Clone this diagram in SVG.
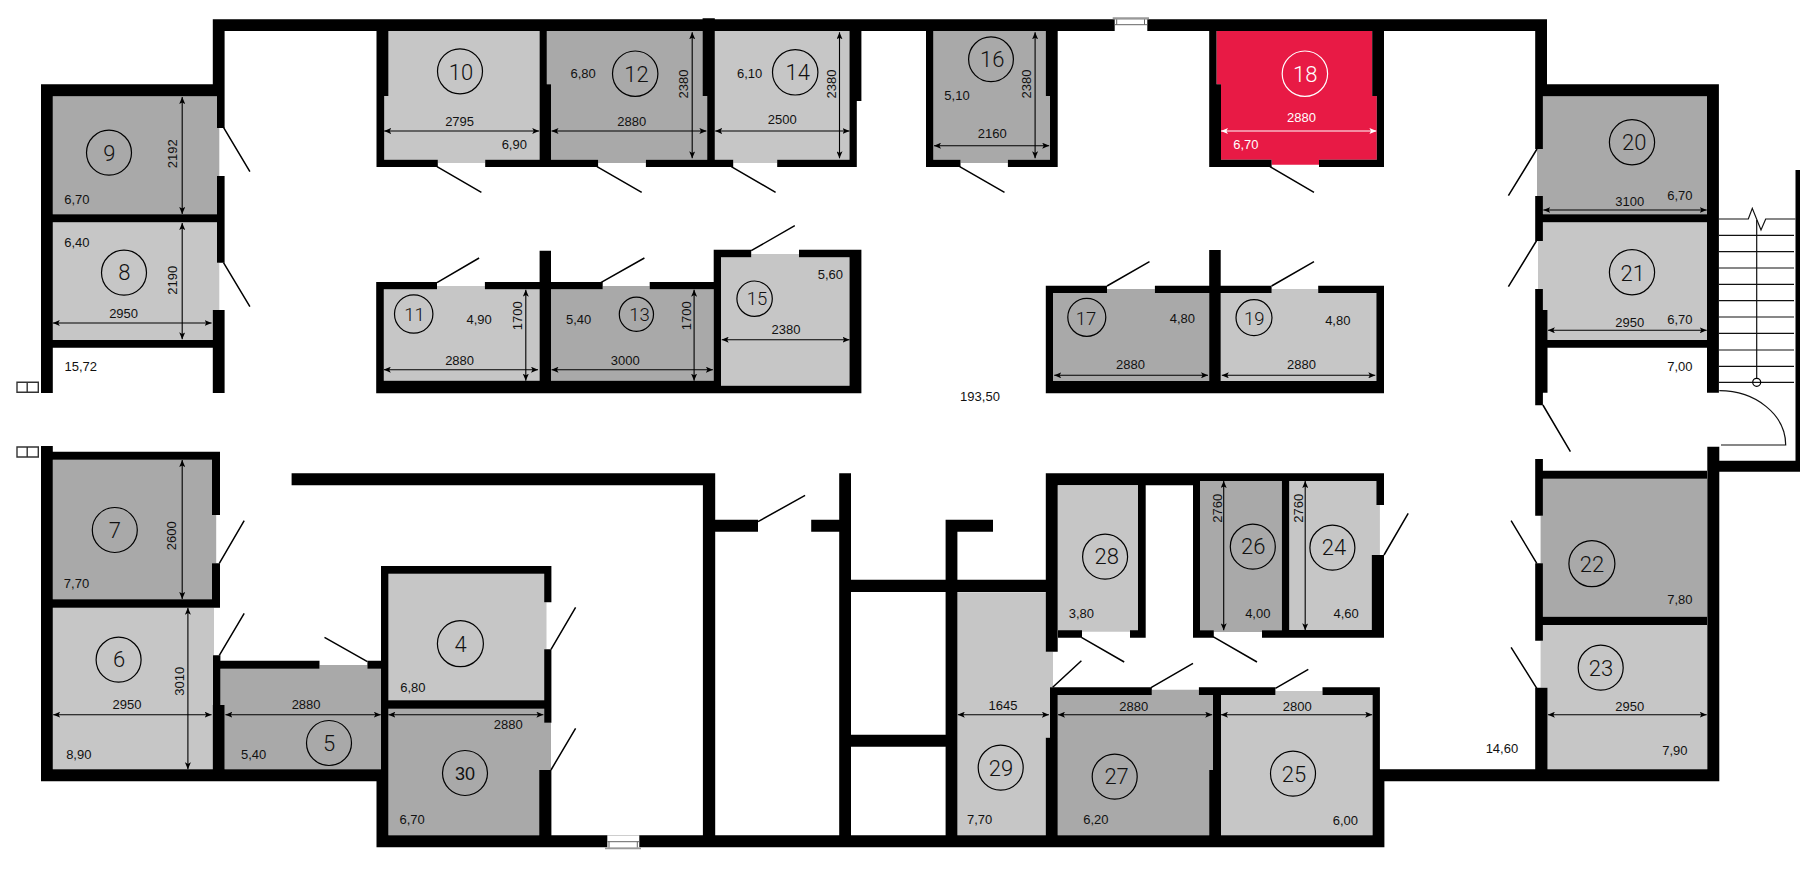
<svg xmlns="http://www.w3.org/2000/svg" width="1800" height="869" viewBox="0 0 1800 869">
<style>
text{font-family:"Liberation Sans",Arial,sans-serif;text-anchor:middle;fill:#111}
.s{font-size:13px}
.n{font-family:Roboto,"Liberation Sans",sans-serif;font-weight:300;font-size:22px}
.c{font-family:Roboto,"Liberation Sans",sans-serif;font-weight:300;font-size:18.5px}
.l{fill:#c6c6c6}
.d{fill:#a9a9a9}
.r{fill:#e81a45}
circle{fill:none;stroke:#000;stroke-width:1.2}
.m{stroke:#000;stroke-width:1.1;fill:none;marker-start:url(#a);marker-end:url(#a)}
.door{stroke:#000;stroke-width:1.5;fill:none}
.st{stroke:#111;stroke-width:1.2;fill:none}
#room18 text{fill:#fff}
#room18 circle{stroke:#fff}
#room18 .m{stroke:#fff;marker-start:url(#w);marker-end:url(#w)}
</style>
<defs>
<marker id="a" viewBox="0 0 7 6" refX="7" refY="3" markerWidth="7" markerHeight="6" markerUnits="userSpaceOnUse" orient="auto-start-reverse"><path d="M0 0L7 3L0 6L1.6 3Z" fill="#000"/></marker>
<marker id="w" viewBox="0 0 7 6" refX="7" refY="3" markerWidth="7" markerHeight="6" markerUnits="userSpaceOnUse" orient="auto-start-reverse"><path d="M0 0L7 3L0 6L1.6 3Z" fill="#fff"/></marker>
</defs>
<rect width="1800" height="869" fill="#fff"/>

<g id="room9"><path class="d" d="M52.8 96.3H217V128H219.3V176H217V214.3H52.8Z"/><circle cx="109" cy="152.7" r="22.5"/><text class="n" x="109.4" y="161">9</text><text class="s" x="76.9" y="204.3">6,70</text><path class="m" d="M182.2 97V214"/><text class="s" transform="rotate(-90 176.8 153.7)" x="176.8" y="153.7">2192</text></g>
<g id="room8"><path class="l" d="M52.8 222.3H217V262.7H219.3V310H212.8V340H52.8Z"/><circle cx="124" cy="272.7" r="22.5"/><text class="n" x="124.4" y="280">8</text><text class="s" x="76.9" y="246.7">6,40</text><path class="m" d="M182.2 223V339.3"/><text class="s" transform="rotate(-90 176.8 280.3)" x="176.8" y="280.3">2190</text><path class="m" d="M52.8 323H211.6"/><text class="s" x="123.6" y="317.7">2950</text></g>
<g id="room10"><path class="l" d="M388.4 31H539.6V159.7H485.2V163H437.8V159.7H384.2V96H388.4Z"/><circle cx="460" cy="71.3" r="22.5"/><text class="n" x="461" y="80">10</text><path class="m" d="M384.2 131H539.2"/><text class="s" x="459.6" y="126.3">2795</text><text class="s" x="514.3" y="148.7">6,90</text></g>
<g id="room12"><path class="d" d="M546.8 31H702.6V96H707.2V159.7H645.9V163H598.1V159.7H551V84.3H546.8Z"/><circle cx="635.2" cy="73.7" r="22.7"/><text class="n" x="636.4" y="81.7">12</text><text class="s" x="583.2" y="78">6,80</text><path class="m" d="M551.5 131H706.4"/><text class="s" x="631.8" y="126.3">2880</text><path class="m" d="M692.2 32.3V158.3"/><text class="s" transform="rotate(-90 688.4 84)" x="688.4" y="84">2380</text></g>
<g id="room14"><path class="l" d="M714.8 31H849.5V159.7H777.2V163H733.2V159.7H714.8Z"/><circle cx="795.2" cy="72.3" r="22.7"/><text class="n" x="797.8" y="80">14</text><text class="s" x="749.6" y="78">6,10</text><path class="m" d="M715.2 131H849.5"/><text class="s" x="782.2" y="123.7">2500</text><path class="m" d="M839.5 32.3V158.3"/><text class="s" transform="rotate(-90 836 84)" x="836" y="84">2380</text></g>
<g id="room16"><path class="d" d="M933.3 31H1045.8V96H1050V159.7H1007.9V163H960.5V159.7H933.3Z"/><circle cx="991" cy="59.3" r="22.4"/><text class="n" x="992.2" y="66.7">16</text><text class="s" x="957" y="99.7">5,10</text><path class="m" d="M934 145.7H1049.2"/><text class="s" x="992.2" y="137.7">2160</text><path class="m" d="M1035.1 32.3V158.3"/><text class="s" transform="rotate(-90 1031.3 84)" x="1031.3" y="84">2380</text></g>
<g id="room18"><path class="r" d="M1216.5 31H1372.2V96H1376.8V159.7H1319V164.7H1271.6V159.7H1221V84.3H1216.5Z"/><circle cx="1304.9" cy="73.7" r="22.7"/><text class="n" x="1305.2" y="81.7">18</text><path class="m" d="M1221 131H1376.4"/><text class="s" x="1301.4" y="122.3">2880</text><text class="s" x="1245.9" y="148.7">6,70</text></g>
<g id="room20"><path class="d" d="M1542.9 96.3H1707V214.3H1542.9V196H1537V149H1542.9Z"/><circle cx="1632" cy="142.3" r="22.6"/><text class="n" x="1634.3" y="150">20</text><path class="m" d="M1543.3 210H1706.7"/><text class="s" x="1629.7" y="206.3">3100</text><text class="s" x="1679.9" y="199.7">6,70</text></g>
<g id="room21"><path class="l" d="M1542.9 222.3H1707V340H1547.5V310H1542.9V289H1538V241H1542.9Z"/><circle cx="1632" cy="272.3" r="22.6"/><text class="n" x="1632.8" y="281">21</text><path class="m" d="M1547.9 330.3H1706.7"/><text class="s" x="1629.7" y="327">2950</text><text class="s" x="1679.9" y="323.7">6,70</text></g>
<g id="room11"><path class="l" d="M383.8 289.3H437V286H484.9V289.3H539.6V380.7H383.8Z"/><circle cx="413.7" cy="314" r="19.2"/><text class="c" x="414.4" y="321.3">11</text><text class="s" x="479.1" y="324.3">4,90</text><path class="m" d="M525.8 289.7V380.7"/><text class="s" transform="rotate(-90 522 315.7)" x="522" y="315.7">1700</text><path class="m" d="M383.8 369.7H538"/><text class="s" x="459.6" y="365.3">2880</text></g>
<g id="room13"><path class="d" d="M551 289.3H602.7V286H649.7V289.3H713.7V380.7H551Z"/><circle cx="636.4" cy="314.3" r="17.1"/><text class="c" x="639.4" y="320.7">13</text><text class="s" x="578.6" y="324.3">5,40</text><path class="m" d="M694.1 289.7V380.7"/><text class="s" transform="rotate(-90 691 315.7)" x="691" y="315.7">1700</text><path class="m" d="M551.5 369.7H712.9"/><text class="s" x="625.3" y="365.3">3000</text></g>
<g id="room15"><path class="l" d="M721 257.3H751.2V254H799V257.3H849.5V385.7H721Z"/><circle cx="754.6" cy="298.7" r="17.7"/><text class="c" x="756.9" y="305.3">15</text><text class="s" x="830.4" y="279">5,60</text><path class="m" d="M721.7 339.7H849.5"/><text class="s" x="786" y="334">2380</text></g>
<g id="room17"><path class="d" d="M1053 293H1107V289H1154.9V293H1209.2V381H1053Z"/><circle cx="1086.8" cy="317.3" r="19"/><text class="c" x="1086" y="325">17</text><text class="s" x="1182.4" y="323.3">4,80</text><path class="m" d="M1054.2 375.3H1208"/><text class="s" x="1130.4" y="369.3">2880</text></g>
<g id="room19"><path class="l" d="M1220.7 293H1271.6V289H1318.2V293H1376.4V381H1220.7Z"/><circle cx="1254" cy="317.7" r="18"/><text class="c" x="1254.3" y="325">19</text><text class="s" x="1337.8" y="325.3">4,80</text><path class="m" d="M1221.8 375.3H1375.3"/><text class="s" x="1301.4" y="369.3">2880</text></g>
<g id="room7"><path class="d" d="M52.8 459.7H212V515H216.2V563.3H212V599.3H52.8Z"/><circle cx="114.8" cy="530" r="22.5"/><text class="n" x="114.8" y="537.5">7</text><text class="s" x="76.5" y="588.3">7,70</text><path class="m" d="M182.2 460V599"/><text class="s" transform="rotate(-90 176.4 535.7)" x="176.4" y="535.7">2600</text></g>
<g id="room6"><path class="l" d="M52.8 607.7H214V655.3H213V705H212.8V769.3H52.8Z"/><circle cx="118.6" cy="659.7" r="22.5"/><text class="n" x="119" y="667">6</text><text class="s" x="78.8" y="758.7">8,90</text><path class="m" d="M187.9 607.7V769.3"/><text class="s" transform="rotate(-90 183.7 681.3)" x="183.7" y="681.3">3010</text><path class="m" d="M53.2 714.7H211.6"/><text class="s" x="127" y="709">2950</text></g>
<g id="room5"><path class="d" d="M220.4 668.7H319.5V665H367.4V668.7H381V769.3H224.6V705H220.4Z"/><circle cx="329" cy="743" r="22.5"/><text class="n" x="329" y="750.7">5</text><text class="s" x="253.7" y="758.7">5,40</text><path class="m" d="M225.4 714.7H380.8"/><text class="s" x="306.1" y="709">2880</text></g>
<g id="room4"><path class="l" d="M388.4 573.7H544.2V602.3H546.5V649.3H544.2V700.3H388.4Z"/><circle cx="460.4" cy="643.7" r="23"/><text class="n" x="460.7" y="651.7">4</text><text class="s" x="412.9" y="692">6,80</text></g>
<g id="room30"><path class="d" d="M388.4 708.7H544.2V722.7H551V770H539.2V835.3H388.4Z"/><circle cx="465" cy="773" r="22.5"/><text x="465" y="780" style="font-size:18px">30</text><path class="m" d="M388.4 714.7H543.4"/><text class="s" x="508.2" y="729.3">2880</text><text class="s" x="412.1" y="824.3">6,70</text></g>
<g id="room28"><path class="l" d="M1058 486H1138V631.7H1058Z"/><circle cx="1105.1" cy="556.7" r="22.5"/><text class="n" x="1106.7" y="564">28</text><text class="s" x="1081.4" y="618">3,80</text></g>
<g id="room26"><path class="d" d="M1200 481H1281.9V630.3H1262V632H1213.8V630.3H1200Z"/><circle cx="1252.8" cy="546.7" r="22.5"/><text class="n" x="1253.2" y="554.3">26</text><text class="s" x="1257.8" y="618">4,00</text><path class="m" d="M1223.7 481V630.3"/><text class="s" transform="rotate(-90 1221.8 508.3)" x="1221.8" y="508.3">2760</text></g>
<g id="room24"><path class="l" d="M1289.2 481H1376.4V505H1379.9V555H1371.8V630H1289.2Z"/><circle cx="1332.4" cy="547.7" r="22.5"/><text class="n" x="1333.9" y="555">24</text><text class="s" x="1346.2" y="618">4,60</text><path class="m" d="M1305.2 481V630.3"/><text class="s" transform="rotate(-90 1303.3 508.3)" x="1303.3" y="508.3">2760</text></g>
<g id="room29"><path class="l" d="M957.4 592.3H1045.8V651.7H1053V687.3H1050V737.7H1045.8V835.3H957.4Z"/><circle cx="1000.7" cy="767.7" r="22.5"/><text class="n" x="1001" y="775.7">29</text><path class="m" d="M957.8 714.7H1048.9"/><text class="s" x="1003" y="710.3">1645</text><text class="s" x="979.6" y="824.3">7,70</text></g>
<g id="room27"><path class="d" d="M1057.7 695H1151.8V689.7H1198.9V695H1213V770H1209.2V835.3H1057.7Z"/><circle cx="1114.7" cy="776.7" r="22.5"/><text class="n" x="1116.6" y="784">27</text><path class="m" d="M1058 714.7H1212.2"/><text class="s" x="1133.8" y="710.7">2880</text><text class="s" x="1095.9" y="824.3">6,20</text></g>
<g id="room25"><path class="l" d="M1221 695H1275.4V691H1322.5V695H1372.6V835.3H1221Z"/><circle cx="1293" cy="773.7" r="22.5"/><text class="n" x="1294" y="781.7">25</text><path class="m" d="M1221 714.7H1372.2"/><text class="s" x="1297.2" y="710.7">2800</text><text class="s" x="1345.4" y="824.7">6,00</text></g>
<g id="room22"><path class="d" d="M1542.9 478.7H1707V616.7H1542.9V563.3H1540.6V515.7H1542.9Z"/><circle cx="1591.9" cy="563.7" r="23"/><text class="n" x="1591.9" y="572">22</text><text class="s" x="1679.9" y="603.7">7,80</text></g>
<g id="room23"><path class="l" d="M1542.9 625H1707V769.3H1547.5V687.7H1540.6V640.7H1542.9Z"/><circle cx="1600.7" cy="667.7" r="22.5"/><text class="n" x="1601" y="676">23</text><path class="m" d="M1547.9 714.7H1706.7"/><text class="s" x="1629.7" y="710.7">2950</text><text class="s" x="1674.9" y="755.3">7,90</text></g>
<g id="corridors"><text class="s" x="80.7" y="370.7">15,72</text><text class="s" x="980" y="401">193,50</text><text class="s" x="1679.9" y="371.3">7,00</text><text class="s" x="1501.9" y="753.3">14,60</text></g>

<g id="walls"><path fill="#000" d="
M212.8 19.3H1547V31H212.8Z
M212.8 19.3H224.6V84.3H212.8Z
M217 84.3H224.6V128H217Z
M41 84.3H224.6V96.3H41Z
M41 84.3H52.8V393H41Z
M217 176H224.6V262.7H217Z
M52.8 214.3H217V222.3H52.8Z
M212.8 310H224.6V393H212.8Z
M52.8 340H212.8V347.7H52.8Z
M376.5 31H388.4V96H376.5Z
M376.5 96H384.2V167H376.5Z
M376.5 159.7H437.8V167H376.5Z
M485.2 159.7H598.1V167H485.2Z
M539.6 31H546.8V84.3H539.6Z
M539.6 84.3H551V167H539.6Z
M645.9 159.7H733.2V167H645.9Z
M702.6 18.3H714.8V96H702.6Z
M707.2 96H714.8V167H707.2Z
M777.2 159.7H856.8V167H777.2Z
M849.5 31H861.4V101H849.5Z
M849.5 101H856.8V167H849.5Z
M926 31H933.3V167H926Z
M926 159.7H960.5V167H926Z
M1007.9 159.7H1057.7V167H1007.9Z
M1045.8 31H1057.7V96H1045.8Z
M1050 96H1057.7V167H1050Z
M1209.2 31H1216.5V84.3H1209.2Z
M1209.2 84.3H1221V167H1209.2Z
M1209.2 159.7H1271.6V167H1209.2Z
M1319 159.7H1384V167H1319Z
M1372.2 31H1384V96H1372.2Z
M1376.8 96H1384V167H1376.8Z
M1535.2 19.3H1547V84.3H1535.2Z
M1535.2 84.3H1718.9V96.3H1535.2Z
M1535.2 84.3H1542.9V149H1535.2Z
M1707 84.3H1718.9V392.7H1707Z
M1535.2 196H1542.9V241H1535.2Z
M1535.2 289H1542.9V405.3H1535.2Z
M1535.2 310H1547.5V392.7H1535.2Z
M1542.9 214.3H1707V222.3H1542.9Z
M1547.5 340H1707V347.7H1547.5Z
M376.2 282H383.8V393.3H376.2Z
M376.2 282H437V289.3H376.2Z
M484.9 282H602.7V289.3H484.9Z
M649.7 282H713.7V289.3H649.7Z
M539.6 250.7H551V393.3H539.6Z
M376.2 380.7H721V393.3H376.2Z
M721 385.7H861.4V393.3H721Z
M713.7 249.7H721V393.3H713.7Z
M713.7 249.7H751.2V257.3H713.7Z
M799 249.7H861.4V257.3H799Z
M849.5 249.7H861.4V393.3H849.5Z
M1045.8 285.7H1053V393.3H1045.8Z
M1045.8 285.7H1107V293H1045.8Z
M1154.9 285.7H1271.6V293H1154.9Z
M1318.2 285.7H1384V293H1318.2Z
M1209.2 250H1220.7V393.3H1209.2Z
M1376.4 285.7H1384V393.3H1376.4Z
M1045.8 381H1384V393.3H1045.8Z
M41 446H52.8V781.3H41Z
M41 451.7H220V459.7H41Z
M212 451.7H220V515H212Z
M212 563.3H220V607.7H212Z
M52.8 599.3H212V607.7H52.8Z
M213 655.3H220.4V705H213Z
M212.8 705H224.6V781.3H212.8Z
M220.4 660.7H319.5V668.7H220.4Z
M367.4 660.7H381V668.7H367.4Z
M41 769.3H388.4V781.3H41Z
M381 566H388.4V769.3H381Z
M381 566H551.4V573.7H381Z
M544.2 566H551.4V602.3H544.2Z
M544.2 649.3H551.4V722.7H544.2Z
M388.4 700.3H544.2V708.7H388.4Z
M539.2 770H551.4V847.3H539.2Z
M376.5 769.3H388.4V847.3H376.5Z
M376.5 835.3H1384.4V847.3H376.5Z
M291.6 473.3H715.2V485.3H291.6Z
M702.9 473.3H715.2V835.3H702.9Z
M715.2 519.7H758V531.7H715.2Z
M811.2 519.7H839.2V531.7H811.2Z
M839.2 473.3H851V835.3H839.2Z
M851 579.7H1045.8V592H851Z
M851 734.7H945.6V746.7H851Z
M945.6 519.7H957.4V835.3H945.6Z
M945.6 519.7H993V531.7H945.6Z
M1045.8 473.3H1057.7V651.7H1045.8Z
M1045.8 473.3H1200V485.3H1045.8Z
M1200 473.3H1384V481H1200Z
M1058 630.3H1082V637.7H1058Z
M1130 630.3H1145.7V637.7H1130Z
M1138 485H1145.7V637.7H1138Z
M1193 485H1200V637.7H1193Z
M1193 630.3H1213.8V637.7H1193Z
M1262 630.3H1289.2V637.7H1262Z
M1281.9 481H1289.2V637.7H1281.9Z
M1289.2 630H1384V637.7H1289.2Z
M1376.4 473.3H1384V505H1376.4Z
M1371.8 555H1384V637.7H1371.8Z
M1050 687.3H1151.8V695H1050Z
M1198.9 687.3H1275.4V695H1198.9Z
M1322.5 687.3H1379.9V695H1322.5Z
M1050 687.3H1057.7V737.7H1050Z
M1045.8 737.7H1057.7V847.3H1045.8Z
M1213 687.3H1221V770H1213Z
M1209.2 770H1221V847.3H1209.2Z
M1372.6 695H1379.9V769.3H1372.6Z
M1372.6 769.3H1384.4V847.3H1372.6Z
M1379.9 769.3H1719V781.3H1379.9Z
M1535.2 687.7H1547.5V781.3H1535.2Z
M1535.2 459H1542.9V515.7H1535.2Z
M1535.2 563.3H1542.9V640.7H1535.2Z
M1542.9 470.7H1707V478.7H1542.9Z
M1542.9 616.7H1707V625H1542.9Z
M1707.3 446.7H1719.3V781.3H1707.3Z
M1719 460.7H1800V471.7H1719Z
M1795.5 170H1800V460.7H1795.5Z
"/></g>

<g id="connectors" class="door">
<path d="M223.5 127.3L249.9 171.7M223.5 262.7L249.9 306.7M437 166.7L481.4 192.3M597 166.7L641.7 192.3M731.3 166.7L775.6 192.3M959.7 166.7L1004.5 192.3M1270 166.7L1314 192.3"/>
<path d="M1537 149L1508.4 195.7M1537 240L1508.4 286.7M1542.9 405L1570.4 451.7M1536.8 563.3L1511.1 520.7M1536.8 688.3L1511.1 647.3"/>
<path d="M437 282.7L479.1 258M600.8 282.7L644.4 258M751.2 250.7L794.8 225.7M1107 286L1149.5 261.7M1271.6 286L1314 261.7"/>
<path d="M758 521.7L805.1 495.3M219.3 563.3L244.2 520.7M219.3 655.3L244.2 613.3M367.4 661.7L324.5 637.3M551 649.3L575.6 607.3M551 770L575.6 728.3"/>
<path d="M1081.4 637.3L1124.2 662M1213 636.7L1257 662M1384 555L1408.2 513.3M1275.4 688.3L1308.3 669.3M1151 687.7L1193 663.3M1052.7 687.3L1081.4 660.7"/>
</g>

<g id="stairs" class="st">
<path d="M1719 219H1748.3L1752.3 208.3L1761 230L1765.7 219H1795.5"/>
<path d="M1719 235.3H1794M1719 251.7H1794M1719 268H1794M1719 284.3H1794M1719 300.7H1794M1719 317H1794M1719 333.3H1794M1719 350H1794M1719 366.3H1794M1719 382.3H1794"/>
<path d="M1756.7 220V378.3"/>
<circle cx="1756.7" cy="382.3" r="4"/>
<path d="M1719.3 390.7A66.4 54.3 0 0 1 1785.7 445H1721"/>
</g>

<g id="windows">
<path fill="#fff" d="M1114.7 19.3H1147.3V31H1114.7Z"/>
<path fill="#999" d="M1112.7 17.3H1149V19.3H1112.7Z"/>
<path fill="none" stroke="#666" stroke-width="1" d="M1114.7 24.7H1147.3M1116.7 19.3V24.7M1144.5 19.3V24.7"/>
<path fill="#fff" d="M607.3 835.3H639.3V847.5H607.3Z"/>
<path fill="#999" d="M605 847.5H641V849.3H605Z"/>
<path fill="none" stroke="#666" stroke-width="1" d="M607.3 841.7H639.3M609 841.7V847.5M637.3 841.7V847.5"/>
<path fill="none" stroke="#333" stroke-width="1.4" d="M17 382.2H27.2V392.2H17ZM27.2 382.2H38.3V392.2H27.2ZM17 447H27.2V457H17ZM27.2 447H38.3V457H27.2Z"/>
</g>
</svg>
